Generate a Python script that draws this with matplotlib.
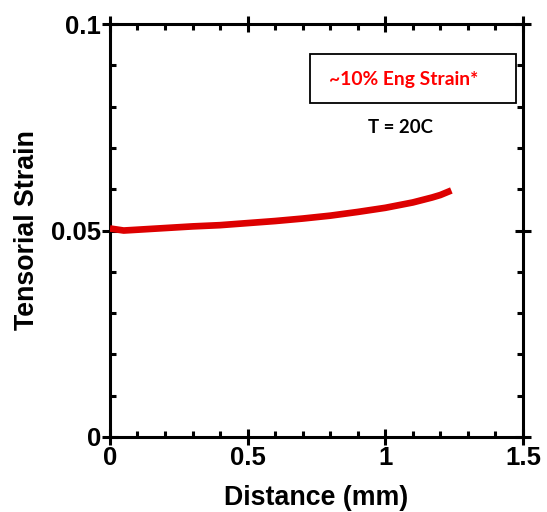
import matplotlib
matplotlib.use("Agg")
import matplotlib.pyplot as plt
from matplotlib.ticker import MultipleLocator, FixedFormatter, FixedLocator
from matplotlib.patches import Rectangle

distance = [0, 0.05, 0.1, 0.2, 0.3, 0.4, 0.5, 0.6, 0.7, 0.8, 0.9, 1.0, 1.1, 1.17, 1.2, 1.24]
strain = [0.0505, 0.0500, 0.0502, 0.0506, 0.0510, 0.0513, 0.0518, 0.0523, 0.0529,
          0.0536, 0.0545, 0.0555, 0.0568, 0.0580, 0.0586, 0.0597]
xticks = [0, 0.5, 1, 1.5]
xticklabels = ["0", "0.5", "1", "1.5"]
yticks = [0, 0.05, 0.1]
yticklabels = ["0", "0.05", "0.1"]

plt.rcParams['font.family'] = ['Liberation Sans', 'DejaVu Sans']

fig = plt.figure(figsize=(5.47, 5.12), dpi=100)
ax = fig.add_axes([0.201, 0.1465, 0.755, 0.8065])
ax.plot(distance, strain, color='#dd0000', lw=4.8, solid_capstyle='butt', zorder=3)
ax.set_xlim(0, 1.5)
ax.set_ylim(0, 0.1)

ax.xaxis.set_major_locator(FixedLocator(xticks))
ax.xaxis.set_major_formatter(FixedFormatter(xticklabels))
ax.yaxis.set_major_locator(FixedLocator(yticks))
ax.yaxis.set_major_formatter(FixedFormatter(yticklabels))
ax.xaxis.set_minor_locator(MultipleLocator(0.1))
ax.yaxis.set_minor_locator(MultipleLocator(0.01))

for s in ax.spines.values():
    s.set_linewidth(2.2)
ax.tick_params(which='major', direction='inout', length=11, width=2.2,
               top=True, right=True, labelsize=18.5, pad=1)
ax.tick_params(which='minor', direction='in', length=4, width=2.2,
               top=True, right=True)
for lab in ax.get_xticklabels() + ax.get_yticklabels():
    lab.set_fontweight('bold')

ax.set_xlabel('Distance (mm)', fontsize=19.3, fontweight='bold', labelpad=11)
ax.set_ylabel('Tensorial Strain', fontsize=19.3, fontweight='bold', labelpad=8)

rect = Rectangle((0.726, 0.0809), 0.749, 0.0118, fill=False, edgecolor='black',
                 lw=1.3, transform=ax.transData, zorder=4)
ax.add_patch(rect)
ax.text(1.066, 0.0866, '~10% Eng Strain*', color='#ff0000', fontsize=13.9,
        fontweight='bold', ha='center', va='center', family=['Lato', 'DejaVu Sans'])
ax.text(1.055, 0.0750, 'T = 20C', color='black', fontsize=13.4,
        fontweight='bold', ha='center', va='center', family=['Lato', 'DejaVu Sans'])

fig.savefig('out.png', dpi=100)
